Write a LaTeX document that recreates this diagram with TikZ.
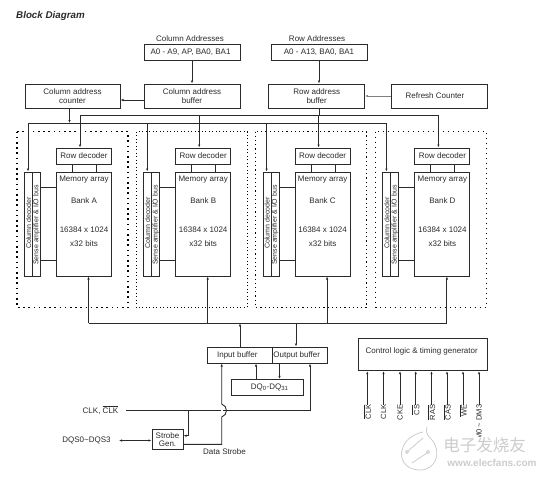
\documentclass[tikz,border=0pt]{standalone}
\usepackage{fontspec}
\setmainfont{Liberation Sans}
\newfontfamily\cjk{Noto Sans CJK SC}
\usepackage{xcolor}
\usetikzlibrary{arrows.meta}
\definecolor{ink}{HTML}{2A2A2A}
\definecolor{stamp}{HTML}{CCCCCC}
\tikzset{
    block/.style={draw=ink,line width=1pt,inner sep=0pt,text=ink,align=center,font=\fontsize{8}{9.5}\selectfont},
    label/.style={inner sep=0pt,text=ink,font=\fontsize{8}{9.5}\selectfont},
    wire/.style={draw=ink,line width=0.9pt},
    feed/.style={wire,-{Latex[length=3pt,width=2.4pt]}},
    bankline/.style={draw=black},
}
\begin{document}
\begin{tikzpicture}[x=1pt,y=-1pt]
    \useasboundingbox (0,0) rectangle (548,479);
    \node[label,anchor=west,font=\fontsize{9.8}{11}\selectfont\bfseries\itshape] (title) at (16,16) {Block Diagram};
    % address blocks
    \node[block,minimum width=96pt,minimum height=16pt] (coladdr) at (192,52.5) {A0 - A9, AP, BA0, BA1\kern 3pt};
    \node[label] (coltitle) at (190,39) {Column Addresses};
    \node[block,minimum width=96pt,minimum height=24pt] (colbuf) at (192,96) {Column address\\buffer};
    \node[block,minimum width=95pt,minimum height=24pt] (colcnt) at (72.5,96) {Column address\\counter};
    \node[block,minimum width=96pt,minimum height=16pt] (rowaddr) at (319,52.5) {A0 - A13, BA0, BA1};
    \node[label] (rowtitle) at (317,39) {Row Addresses};
    \node[block,minimum width=95.5pt,minimum height=24pt] (rowbuf) at (316.7,96) {Row address\\buffer};
    \node[block,minimum width=96pt,minimum height=24pt] (refresh) at (439,96) {Refresh Counter\kern 8pt};
    \draw[feed] (coladdr) -- (colbuf);
    \draw[feed] (colbuf.west |- 0,100) -- (colcnt.east |- 0,100);
    \draw[feed] (rowaddr.south -| 319,0) -- (rowbuf.north -| 319,0);
    \draw[feed,draw=gray] (refresh.west) -- (rowbuf.east |- refresh.west);
    \coordinate (colbus) at (28,123.5);
    \coordinate (rowbus) at (80,115.7);
    \draw[feed] (colcnt.south -| 69.5,0) -- (69.5,123);
    \draw[wire] (rowbuf.south -| 319,0) -- (319,115.7);
    \draw[wire] (colbus) -- (387,123.5);
    \draw[wire] (rowbus) -- (439,115.7);
    % the four banks
    \foreach \bank/\x/\dotw/\dotgap in {A/0/1.6pt/3.6pt,B/119.2/0.9pt/2.6pt,C/238.6/1.2pt/3pt,D/358.4/1.5pt/3.5pt}
    {
        \begin{scope}[xshift=\x pt]
            \draw[bankline,line width=\dotw,dash pattern=on \dotw off \dotgap] (17.2,131.5) rectangle (128,307.5);
            \node[block,minimum width=8pt,minimum height=104pt] (coldec\bank) at (28.5,224) {};
            \node[label,rotate=90,font=\fontsize{7}{8}\selectfont] (coltext\bank) at (28.5,223) {Column decoder};
            \node[block,minimum width=8pt,minimum height=104pt] (sense\bank) at (36.5,224) {};
            \node[label,rotate=90,font=\fontsize{7}{8}\selectfont] (sensetext\bank) at (36.5,225) {Sense amplifier \& I/O bus};
            \node[block,minimum width=55pt,minimum height=16pt] (rowdec\bank) at (84,156) {Row decoder};
            \node[block,minimum width=55pt,minimum height=104pt] (mem\bank) at (84,224) {};
            \node[label] (memtext\bank) at (84,179.5) {Memory array};
            \node[label] (banktext\bank) at (84,201) {Bank \bank};
            \node[label] (sizetext\bank) at (84,230) {16384 x 1024};
            \node[label] (widthtext\bank) at (84,244) {x32 bits};
            \draw[feed] (80,115.7) -- (rowdec\bank.north -| 80,0);
            \draw[feed] (28,123.5) -- (coldec\bank.north -| 28,0);
            \draw[wire] (72.5,164) -- (72.5,172);
            \draw[wire] (96.5,164) -- (96.5,172);
            \draw[wire] (40.5,187.5) -- (56.5,187.5);
            \draw[wire] (40.5,260) -- (56.5,260);
            \draw[feed] (88.5,323.3) -- (mem\bank.south -| 88.5,0);
        \end{scope}
    }
    \draw[wire] (88.5,323.3) -- (447,323.3);
    % data path
    \node[block,minimum width=64.5pt,minimum height=16pt] (inbuf) at (239.75,355) {Input buffer\kern 5pt};
    \node[block,minimum width=55.5pt,minimum height=16pt] (outbuf) at (299.75,355) {Output buffer\kern 6pt};
    \node[block,minimum width=72pt,minimum height=16pt] (dq) at (267.6,387.4) {\kern 4pt DQ\textsubscript{0}-DQ\textsubscript{31}};
    \draw[feed] (inbuf.north -| 240,0) -- (240,323.3);
    \draw[feed] (296,323.3) -- (outbuf.north -| 296,0);
    \draw[feed] (dq.north -| 256,0) -- (inbuf.south -| 256,0);
    \draw[feed] (outbuf.south -| 279.5,0) -- (dq.north -| 279.5,0);
    % strobe
    \node[block,minimum width=31pt,minimum height=20.5pt] (strobe) at (167.5,439.3) {Strobe\\[-1.5pt]Gen.};
    \node[label] (clk) at (100.5,410) {CLK, $\overline{\mbox{CLK}}$};
    \node[label] (dqs) at (86.5,440) {DQS0\textasciitilde DQS3};
    \node[label] (datastrobe) at (224.5,452) {Data Strobe};
    \coordinate (clkstart) at (126,410.8);
    \coordinate (dqsstart) at (119,440.5);
    \draw[feed] (clkstart) -- (310,410.8) -- (outbuf.south -| 310,0);
    \draw[feed] (188.7,410.8) -- (188.7,435.7) -- (strobe.east |- 0,435.7);
    \draw[white,line width=1.8pt] (221.7,404) -- (221.7,417);
    \draw[feed] (strobe.east |- 0,444.3) -- (221.7,444.3) -- (221.7,417) .. controls (228,415) and (228,406) .. (221.7,404) -- (inbuf.south -| 221.7,0);
    \draw[{Latex[length=3pt,width=2.4pt]}-{Latex[length=3pt,width=2.4pt]},wire] (dqsstart) -- (strobe.west |- dqsstart);
    % control logic
    \node[block,minimum width=128.6pt,minimum height=31.7pt] (ctrl) at (423,354.8) {};
    \node[label] (ctrltext) at (421.7,351) {Control logic \& timing generator};
    \foreach \i/\x/\lab in {1/367.3/$\overline{\mbox{CLK}}$,2/383.5/CLK,3/400/CKE,4/415.7/$\overline{\mbox{CS}}$,5/431.5/$\overline{\mbox{RAS}}$,6/447/$\overline{\mbox{CAS}}$,7/463/$\overline{\mbox{WE}}$,8/479/DM0 \textasciitilde{} DM3}
    {
        \node[label,rotate=90,anchor=east,font=\fontsize{7.5}{8}\selectfont] (pin\i) at (\x,404.5) {\lab};
        \draw[feed] (pin\i.east) -- (ctrl.south -| pin\i.east);
    }
    % watermark
    \draw[stamp,line width=0.8pt] (427,427) .. controls (425,435) and (429,436) .. (432,440) .. controls (442,452) and (436,470) .. (420,470) .. controls (405,470) and (398,458) .. (403,447) .. controls (406,439) and (414,434) .. (423,432);
    \draw[stamp,line width=0.8pt] (407,452) circle (1.5) (428,452) circle (1.5) (408,451) -- (423,438) (427,453) -- (412,463);
    \node[label,text=stamp,fill=white,font=\fontsize{16.5}{17}\cjk\selectfont] (stampcn) at (484.5,445) {电子发烧友};
    \node[label,text=stamp,font=\fontsize{10}{10}\selectfont\bfseries] (stampurl) at (492,463) {www.elecfans.com};
\end{tikzpicture}
\end{document}
